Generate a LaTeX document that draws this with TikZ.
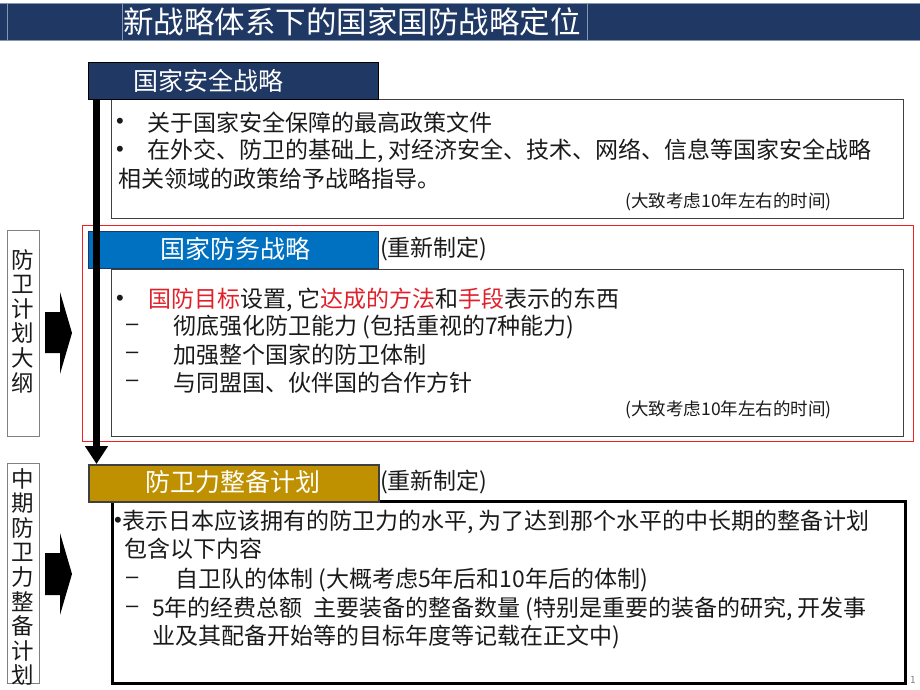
\documentclass[tikz,border=0pt]{standalone}
\usepackage{fontspec}
\setmainfont{Noto Sans CJK SC}
\newfontfamily\bulfont{Liberation Sans}
\usetikzlibrary{arrows.meta}
\definecolor{navy}{HTML}{1F3864}
\definecolor{barline}{HTML}{8497B0}
\definecolor{blueh}{HTML}{0070C0}
\definecolor{goldh}{HTML}{BF9000}
\definecolor{redt}{HTML}{E0202A}
\definecolor{redf}{HTML}{F02020}
\definecolor{dgray}{HTML}{404040}
\definecolor{mgray}{HTML}{808080}
\definecolor{txtc}{HTML}{1A1A1A}
\begin{document}
\begin{tikzpicture}[x=1pt,y=-1pt,
  hdr/.style={anchor=north west, minimum width=290pt, minimum height=37pt, inner sep=0pt},
  hdrtext/.style={inner sep=0pt, text=white, font=\fontsize{25}{28}\selectfont},
  bodybox/.style={draw=dgray, line width=1pt, anchor=north west, minimum width=792pt, inner sep=0pt},
  txt/.style={anchor=west, inner sep=0pt, text=txtc, font=\fontsize{23}{26}\selectfont},
  bul/.style={anchor=west, inner sep=0pt, text=txtc, font=\bulfont\fontsize{22}{26}\selectfont},
  small/.style={anchor=east, inner sep=0pt, text=txtc, font=\fontsize{17.5}{20}\selectfont},
  sidebox/.style={draw=mgray, line width=1.3pt, anchor=north west, minimum width=32pt, inner sep=0pt},
  sidetext/.style={inner sep=0pt, align=center, text=txtc, font=\fontsize{22.5}{24.6}\selectfont},
  blockarrow/.style={fill=black}
]
\useasboundingbox (0,0) rectangle (920,690);

% title bar
\node[fill=navy, anchor=north west, minimum width=920pt, minimum height=37pt, inner sep=0pt] (bar) at (0,3) {};
\draw[barline, line width=0.6pt] (bar.north west) -- (bar.north east);
\draw[barline, line width=0.6pt] (bar.south west) -- (bar.south east);
\draw[barline, line width=0.6pt] ([xshift=7pt]bar.north west) -- ([xshift=7pt]bar.south west);
\draw[barline, line width=0.6pt] ([xshift=122pt]bar.north west) -- ([xshift=122pt]bar.south west);
\draw[barline, line width=0.6pt] ([xshift=587pt]bar.north west) -- ([xshift=587pt]bar.south west);
\node[anchor=west, inner sep=0pt, text=white, font=\fontsize{30.5}{34}\selectfont] (title) at (123,22) {新战略体系下的国家国防战略定位};

% red frame
\node[draw=redf, line width=1pt, anchor=north west, minimum width=831pt, minimum height=216pt, inner sep=0pt] (redframe) at (82,225) {};

% section 1
\node[bodybox, minimum height=119pt] (body1) at (111,99) {};
\node[hdr, fill=navy, draw=black, line width=1.4pt] (nss) at (88,62) {};
\node[hdrtext] (nsst) at (208,81) {国家安全战略};
\node[bul] (b1bul1) at (116,123) {•};
\node[txt] (b1l1) at (147,123) {关于国家安全保障的最高政策文件};
\node[bul] (b1bul2) at (116,151) {•};
\node[txt] (b1l2) at (147,151) {在外交、防卫的基础上, 对经济安全、技术、网络、信息等国家安全战略};
\node[txt] (b1l3) at (118,179) {相关领域的政策给予战略指导。};
\node[small] (b1s) at (832,202) {(大致考虑10年左右的时间)};

% section 2
\node[bodybox, minimum height=167pt] (body2) at (111,269) {};
\node[hdr, fill=blueh, draw=navy, line width=1.2pt] (nds) at (88,231) {};
\node[hdrtext] (ndst) at (235,249) {国家防务战略};
\node[txt] (nds2) at (380,249) {(重新制定)};
\node[bul] (b2bul1) at (116,300) {•};
\node[txt] (b2l1) at (148,300) {\textcolor{redt}{国防目标}设置, 它\textcolor{redt}{达成的方法}和\textcolor{redt}{手段}表示的东西};
\node[bul] (b2d1) at (126,327) {–};
\node[txt] (b2l2) at (173,327) {彻底强化防卫能力 (包括重视的7种能力)};
\node[bul] (b2d2) at (126,355) {–};
\node[txt] (b2l3) at (173,355) {加强整个国家的防卫体制};
\node[bul] (b2d3) at (126,383) {–};
\node[txt] (b2l4) at (173,383) {与同盟国、伙伴国的合作方针};
\node[small] (b2s) at (832,410) {(大致考虑10年左右的时间)};

% section 3
\node[draw=black, line width=3pt, anchor=north west, minimum width=793pt, minimum height=182pt, inner sep=0pt] (body3) at (111,500) {};
\node[hdr, fill=goldh, draw=dgray, line width=2pt] (dbp) at (88,464) {};
\node[hdrtext] (dbpt) at (233,482) {防卫力整备计划};
\node[txt] (dbp2) at (380,482) {(重新制定)};
\node[bul] (b3bul) at (114,522) {•};
\node[txt] (b3l1) at (122,522) {表示日本应该拥有的防卫力的水平, 为了达到那个水平的中长期的整备计划};
\node[txt] (b3l2) at (124,549) {包含以下内容};
\node[bul] (b3d1) at (126,580) {–};
\node[txt] (b3l3) at (175,580) {自卫队的体制 (大概考虑5年后和10年后的体制)};
\node[bul] (b3d2) at (126,609) {–};
\node[txt] (b3l4) at (152,609) {5年的经费总额\ \ 主要装备的整备数量 (特别是重要的装备的研究, 开发事};
\node[txt] (b3l5) at (152,637) {业及其配备开始等的目标年度等记载在正文中)};

% thick vertical arrow
\draw[line width=7pt, -{Triangle[width=22pt,length=18pt]}] ([xshift=8.5pt]nss.south west) -- ([xshift=8.5pt]dbp.north west);

% side boxes
\node[sidebox, minimum height=206pt] (side1) at (7,230) {};
\node[sidetext] (side1t) at (23,321) {防\\卫\\计\\划\\大\\纲};
\node[sidebox, minimum height=220pt] (side2) at (7,463) {};
\node[sidetext] (side2t) at (23,577) {中\\期\\防\\卫\\力\\整\\备\\计\\划};

% block arrows
\fill[blockarrow] (45,312) -- (60,312) -- (60,292) -- (72,333) -- (60,374) -- (60,353) -- (45,353) -- cycle;
\fill[blockarrow] (45,553) -- (60,553) -- (60,533) -- (72,574) -- (60,615) -- (60,595) -- (45,595) -- cycle;

% page number
\node[inner sep=0pt, text=mgray, font=\fontsize{10}{12}\selectfont] (pnum) at (913,680) {1};
\end{tikzpicture}
\end{document}
